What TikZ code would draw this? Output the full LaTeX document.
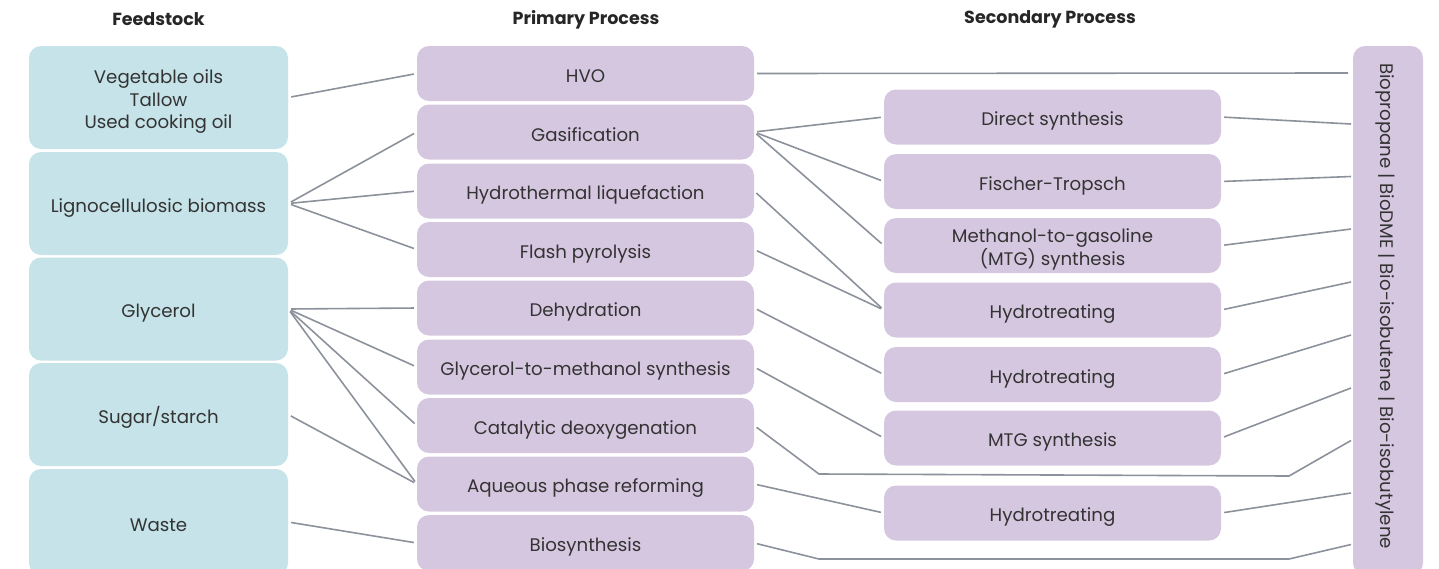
\documentclass[tikz,border=0pt]{standalone}
\usepackage{fontspec}
\setmainfont{Poppins}
\definecolor{fcol}{HTML}{C5E3E8}
\definecolor{pcol}{HTML}{D6C7E0}
\definecolor{lcol}{HTML}{8C929B}
\definecolor{tcol}{HTML}{333333}
\newcommand\mystrut{\rule[-4pt]{0pt}{26.5pt}}
\newcommand\topstrut{\rule{0pt}{22pt}}
\begin{document}
\begin{tikzpicture}[x=1pt,y=-1pt,
  base/.style={rounded corners=12pt, inner sep=0pt, align=center, text=tcol, font=\fontsize{18.2}{22.5}\selectfont, execute at begin node=\mystrut},
  fbox/.style={base, fill=fcol, minimum width=259pt, minimum height=103pt},
  pbox/.style={base, fill=pcol, minimum width=337pt, minimum height=55pt},
  conn/.style={draw=lcol, line width=1.6pt, shorten <=3pt, shorten >=3pt},
  head/.style={font=\bfseries\fontsize{17.5}{20}\selectfont, text=black!85}]
\useasboundingbox (0,0) rectangle (1439,568);
\clip (0,0) rectangle (1439,568);
% headings
\node[head] (h1) at (158.5,19.5) {Feedstock};
\node[head] (h2) at (586,19.5) {Primary Process};
\node[head] (h3) at (1050,19.5) {Secondary Process};
% feedstock
\node[fbox] (f1) at (158.5,97.5) {\topstrut Vegetable oils\\Tallow\\Used cooking oil};
\node[fbox] (f2) at (158.5,203.5) {Lignocellulosic biomass};
\node[fbox] (f3) at (158.5,309) {Glycerol};
\node[fbox] (f4) at (158.5,414.5) {Sugar/starch};
\node[fbox, minimum height=106pt] (f5) at (158.5,522) {Waste};
% primary
\node[pbox] (p1) at (585.5,73.5) {HVO};
\node[pbox] (p2) at (585.5,132) {Gasification};
\node[pbox] (p3) at (585.5,191) {Hydrothermal liquefaction};
\node[pbox] (p4) at (585.5,249.5) {Flash pyrolysis};
\node[pbox] (p5) at (585.5,308) {Dehydration};
\node[pbox] (p6) at (585.5,367) {Glycerol-to-methanol synthesis};
\node[pbox] (p7) at (585.5,425.5) {Catalytic deoxygenation};
\node[pbox] (p8) at (585.5,484) {Aqueous phase reforming};
\node[pbox, minimum height=56pt] (p9) at (585.5,543) {Biosynthesis};
% secondary
\node[pbox] (s1) at (1052.5,117) {Direct synthesis};
\node[pbox] (s2) at (1052.5,181.5) {Fischer-Tropsch};
\node[pbox] (s3) at (1052.5,245.5) {\topstrut Methanol-to-gasoline\\(MTG) synthesis};
\node[pbox] (s4) at (1052.5,310) {Hydrotreating};
\node[pbox] (s5) at (1052.5,374.5) {Hydrotreating};
\node[pbox] (s6) at (1052.5,438) {MTG synthesis};
\node[pbox] (s7) at (1052.5,513) {Hydrotreating};
% product
\node[pbox, minimum width=70pt, minimum height=529pt, execute at begin node={}] (prod) at (1388,310.5) {};
\node[base, rotate=-90, execute at begin node={}] (prodtext) at (1389,306) {Biopropane | BioDME | Bio-isobutene | Bio-isobutylene};
% product connection points
\coordinate (q1) at (1351,73);
\coordinate (q2) at (1351,124);
\coordinate (q3) at (1351,176.5);
\coordinate (q4) at (1351,229);
\coordinate (q5) at (1351,282);
\coordinate (q6) at (1351,335);
\coordinate (q7) at (1351,388);
\coordinate (q8) at (1351,440.5);
\coordinate (q9) at (1351,493);
\coordinate (q10) at (1351,544.5);
\coordinate (c1) at (819,474);
\coordinate (c2) at (1289,476);
\coordinate (c3) at (819,559);
\coordinate (c4) at (1289,559);
% feedstock -> primary
\draw[conn] (f1.east) -- (p1.west);
\draw[conn] (f2.east) -- (p2.west);
\draw[conn] (f2.east) -- (p3.west);
\draw[conn] (f2.east) -- (p4.west);
\draw[conn] (f3.east) -- (p5.west);
\draw[conn] (f3.east) -- (p6.west);
\draw[conn] (f3.east) -- (p7.west);
\draw[conn] (f3.east) -- (p8.west);
\draw[conn] (f4.east) -- (p8.west);
\draw[conn] (f5.east) -- (p9.west);
% primary -> secondary / product
\draw[conn] (p1.east) -- (q1);
\draw[conn] (p2.east) -- (s1.west);
\draw[conn] (p2.east) -- (s2.west);
\draw[conn] (p2.east) -- (s3.west);
\draw[conn] (p3.east) -- (s4.west);
\draw[conn] (p4.east) -- (s4.west);
\draw[conn] (p5.east) -- (s5.west);
\draw[conn] (p6.east) -- (s6.west);
\draw[conn, shorten >=0pt] (p7.east) -- (c1) -- (c2) -- (q8);
\draw[conn] (p8.east) -- (s7.west);
\draw[conn, shorten >=0pt] (p9.east) -- (c3) -- (c4) -- (q10);
% secondary -> product
\draw[conn, shorten >=0pt] (s1.east) -- (q2);
\draw[conn, shorten >=0pt] (s2.east) -- (q3);
\draw[conn, shorten >=0pt] (s3.east) -- (q4);
\draw[conn, shorten >=0pt] (s4.east) -- (q5);
\draw[conn, shorten >=0pt] (s5.east) -- (q6);
\draw[conn, shorten >=0pt] (s6.east) -- (q7);
\draw[conn, shorten >=0pt] (s7.east) -- (q9);
\end{tikzpicture}
\end{document}
